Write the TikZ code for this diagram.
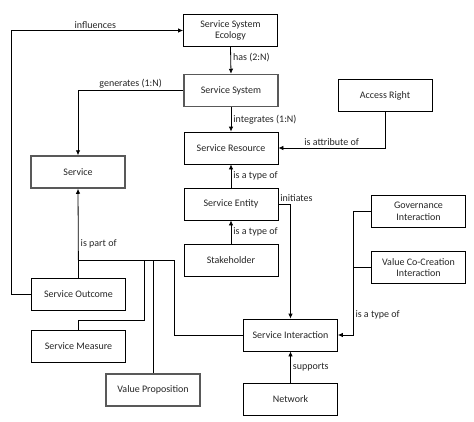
\documentclass[tikz,border=0pt]{standalone}
\usepackage{fontspec}
\setmainfont{Carlito}
\usepackage{tikz}
\usetikzlibrary{arrows.meta}

\begin{document}
\begin{tikzpicture}[x=1pt, y=-1pt, line width=0.8pt, >={Latex[length=5pt,width=4.5pt]},
  every node/.style={font=\fontsize{10}{11.5}\selectfont, text=black!85},
  conceptbox/.style={draw, minimum width=94pt, minimum height=32pt, inner sep=1pt, align=center, fill=white},
  keybox/.style={conceptbox, draw=black!65, line width=1.5pt,
    append after command={\pgfextra{\draw[black, line width=0.7pt]
      ([xshift=2.4pt,yshift=-2.4pt]\tikzlastnode.north west) rectangle
      ([xshift=-2.4pt,yshift=2.4pt]\tikzlastnode.south east);}}},
  rel/.style={inner sep=2pt}]
  \useasboundingbox (0,0) rectangle (474,421);
  % concepts
  \node[conceptbox] (ecology) at (230.5,30.5) {Service System\\Ecology};
  \node[keybox] (system) at (231,90.5) {Service System};
  \node[conceptbox] (resource) at (231,148) {Service Resource};
  \node[conceptbox] (entity) at (231,204) {Service Entity};
  \node[conceptbox] (stakeholder) at (231,260.5) {Stakeholder};
  \node[conceptbox] (access) at (385,95.5) {Access Right};
  \node[keybox] (service) at (78,172) {Service};
  \node[conceptbox] (outcome) at (78.5,294.5) {Service Outcome};
  \node[conceptbox] (measure) at (78.5,346) {Service Measure};
  \node[keybox] (value) at (153,390) {Value Proposition};
  \node[conceptbox] (interaction) at (290.5,335) {Service Interaction};
  \node[conceptbox] (network) at (290.5,399) {Network};
  \node[conceptbox] (governance) at (418.5,211.5) {Governance\\Interaction};
  \node[conceptbox] (cocreation) at (418.5,267.5) {Value Co-Creation\\Interaction};
  % relations
  \draw[->] (outcome.west) -- ++(-20,0) |- (ecology.west) node[rel, pos=0.745, above] {influences};
  \draw[->] (ecology.south) -- (system.north) node[rel, pos=0.4, right] {has (2:N)};
  \draw[->] (system.west) -| (service.north) node[rel, pos=0.25, above] {generates (1:N)};
  \draw[->] (system.south) -- (resource.north) node[rel, midway, right] {integrates (1:N)};
  \draw[->] (access.south) |- (resource.east) node[rel, pos=0.75, above] {is attribute of};
  \draw[->] (entity.north) -- (resource.south) node[rel, midway, right] {is a type of};
  \draw[->] (stakeholder.north) -- (entity.south) node[rel, midway, right] {is a type of};
  \draw[->] (entity.east) -| (interaction.north) node[rel, pos=0.5, above, xshift=6pt] {initiates};
  \draw[->] (governance.west) -- ++(-18,0) |- (interaction.east) node[rel, pos=0.42, right] {is a type of};
  \draw (cocreation.west) -- ++(-18,0);
  \draw[->] (network.north) -- (interaction.south) node[rel, midway, right] {supports};
  % is part of
  \coordinate (part) at (78.5,260);
  \draw[->] (outcome.north) -- (service.south) node[rel, pos=0.38, right] {is part of};
  \draw (part) -- ++(96,0) |- (interaction.west);
  \draw ([xshift=65.5pt]part) -- ++(0,60) -| (measure.north);
  \draw (value.north |- part) -- (value.north);
\end{tikzpicture}
\end{document}
